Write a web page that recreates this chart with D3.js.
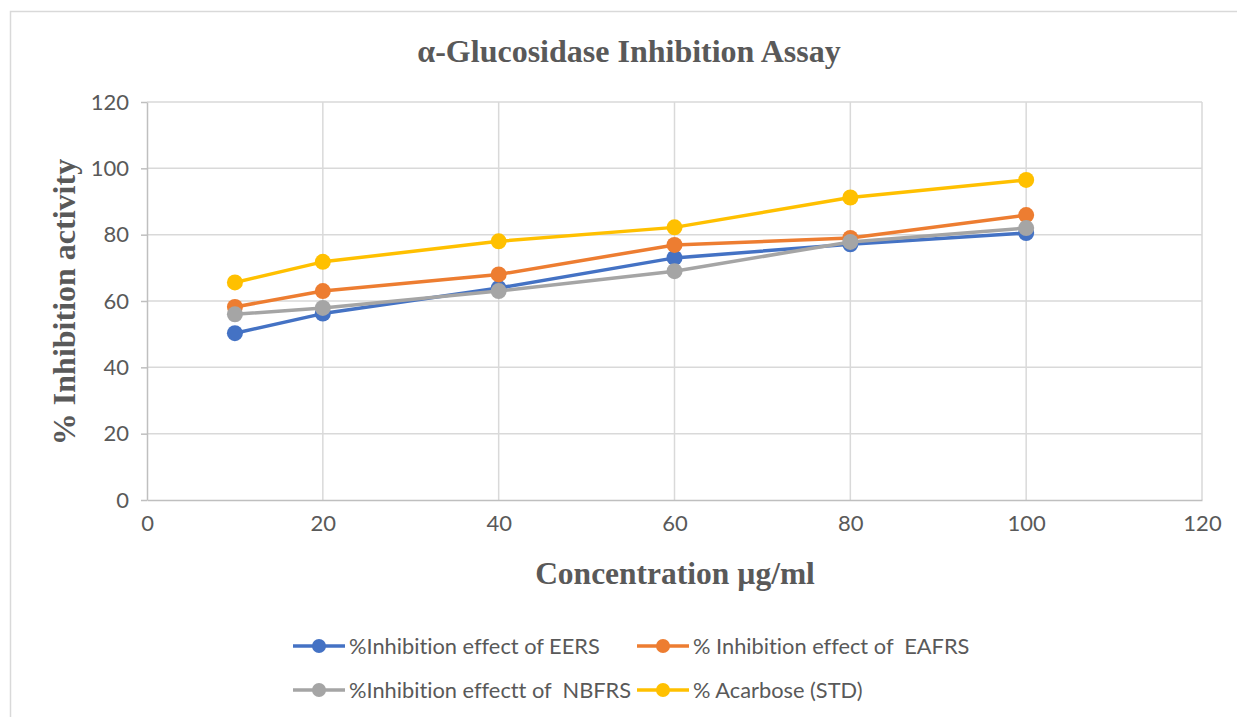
<!DOCTYPE html>
<html>
<head>
<meta charset="utf-8">
<script src="https://cdn.jsdelivr.net/npm/d3@7"></script>
<style>
  body { margin: 0; background: #fff; }
  svg { display: block; }
  text { font-variant-ligatures: none; }
  .tick text { font-family: Lato, "Open Sans", sans-serif; font-size: 22px; fill: #595959; }
</style>
</head>
<body>
<svg width="1237" height="717"></svg>
<script>
// concentrations (µg/ml)
var conc = [10, 20, 40, 60, 80, 100];

var eers = [50.3, 56.2, 63.9, 73, 77.1, 80.5];
var eafrs = [58.2, 63, 68, 76.9, 79, 85.9];
var nbfrs = [56, 57.9, 63, 69, 77.8, 82];
var acarbose = [65.6, 71.8, 78, 82.2, 91.2, 96.5];

var seriesNames = [
  "%Inhibition effect of EERS",
  "% Inhibition effect of  EAFRS",
  "%Inhibition effectt of  NBFRS",
  "% Acarbose (STD)"
];
var colors = ["#4472c4", "#ed7d31", "#a5a5a5", "#ffc000"];

var xTicks = [0, 20, 40, 60, 80, 100, 120];
var yTicks = [0, 20, 40, 60, 80, 100, 120];

var svg = d3.select("svg");

// outer chart border
svg.append("rect")
    .attr("x", 10.5).attr("y", 11.5)
    .attr("width", 1240).attr("height", 720)
    .attr("fill", "none")
    .attr("stroke", "#d9d9d9")
    .attr("stroke-width", 1.5);

var plotLeft = 147, plotRight = 1202, plotTop = 102, plotBottom = 500;

var x = d3.scaleLinear().domain([0, 120]).range([plotLeft, plotRight]);
var y = d3.scaleLinear().domain([0, 120]).range([plotBottom, plotTop]);

// gridlines
svg.append("g").selectAll("line")
    .data(yTicks.slice(1))
    .enter().append("line")
    .attr("x1", plotLeft).attr("x2", plotRight)
    .attr("y1", function(d) { return y(d); })
    .attr("y2", function(d) { return y(d); })
    .attr("stroke", "#d9d9d9").attr("stroke-width", 1.5);

svg.append("g").selectAll("line")
    .data(xTicks.slice(1))
    .enter().append("line")
    .attr("y1", plotTop).attr("y2", plotBottom)
    .attr("x1", function(d) { return x(d); })
    .attr("x2", function(d) { return x(d); })
    .attr("stroke", "#d9d9d9").attr("stroke-width", 1.5);

// axes
var xAxis = svg.append("g")
    .attr("transform", "translate(0," + plotBottom + ")")
    .call(d3.axisBottom(x).tickValues(xTicks).tickSizeInner(0).tickSizeOuter(0).tickPadding(15));
xAxis.select(".domain").attr("stroke", "#bfbfbf").attr("stroke-width", 1.5);

var yAxis = svg.append("g")
    .attr("transform", "translate(" + plotLeft + ",0)")
    .call(d3.axisLeft(y).tickValues(yTicks).tickSizeInner(6).tickSizeOuter(0).tickPadding(12));
yAxis.select(".domain").attr("stroke", "#bfbfbf").attr("stroke-width", 1.5);
yAxis.selectAll(".tick line").attr("stroke", "#bfbfbf").attr("stroke-width", 1.5);

// lines
var data = [eers, eafrs, nbfrs, acarbose];
var line = d3.line()
    .x(function(d, i) { return x(conc[i]); })
    .y(function(d) { return y(d); });

data.forEach(function(vals, k) {
  svg.append("path")
      .datum(vals)
      .attr("d", line)
      .attr("fill", "none")
      .attr("stroke", colors[k])
      .attr("stroke-width", 3.5)
      .attr("stroke-linejoin", "round");
  svg.append("g").selectAll("circle")
      .data(vals)
      .enter().append("circle")
      .attr("cx", function(d, i) { return x(conc[i]); })
      .attr("cy", function(d) { return y(d); })
      .attr("r", 8)
      .attr("fill", colors[k]);
});

// title + axis titles
var serif = "'Liberation Serif', 'Times New Roman', serif";
svg.append("text")
    .attr("x", 629).attr("y", 62)
    .attr("text-anchor", "middle")
    .attr("font-family", serif)
    .attr("font-weight", "bold")
    .attr("font-size", 32)
    .attr("fill", "#595959")
    .text("α-Glucosidase Inhibition Assay");

svg.append("text")
    .attr("x", 675).attr("y", 584)
    .attr("text-anchor", "middle")
    .attr("font-family", serif)
    .attr("font-weight", "bold")
    .attr("font-size", 31.5)
    .attr("fill", "#595959")
    .text("Concentration µg/ml");

svg.append("text")
    .attr("transform", "translate(75,302) rotate(-90)")
    .attr("text-anchor", "middle")
    .attr("font-family", serif)
    .attr("font-weight", "bold")
    .attr("font-size", 32)
    .attr("fill", "#595959")
    .text("% Inhibition activity");

// legend
var legendPos = [[293, 646], [637, 646], [293, 690], [637, 690]];
seriesNames.forEach(function(name, k) {
  var g = svg.append("g").attr("transform", "translate(" + legendPos[k][0] + "," + legendPos[k][1] + ")");
  g.append("line").attr("x1", 0).attr("x2", 52).attr("y1", 0).attr("y2", 0)
      .attr("stroke", colors[k]).attr("stroke-width", 3.5);
  g.append("circle").attr("cx", 26).attr("cy", 0).attr("r", 7).attr("fill", colors[k]);
  g.append("text").attr("x", 56).attr("y", 8)
      .attr("font-family", "Lato, 'Open Sans', sans-serif")
      .attr("font-size", 21.8)
      .attr("fill", "#595959")
      .style("white-space", "pre")
      .text(name);
});
</script>
</body>
</html>
